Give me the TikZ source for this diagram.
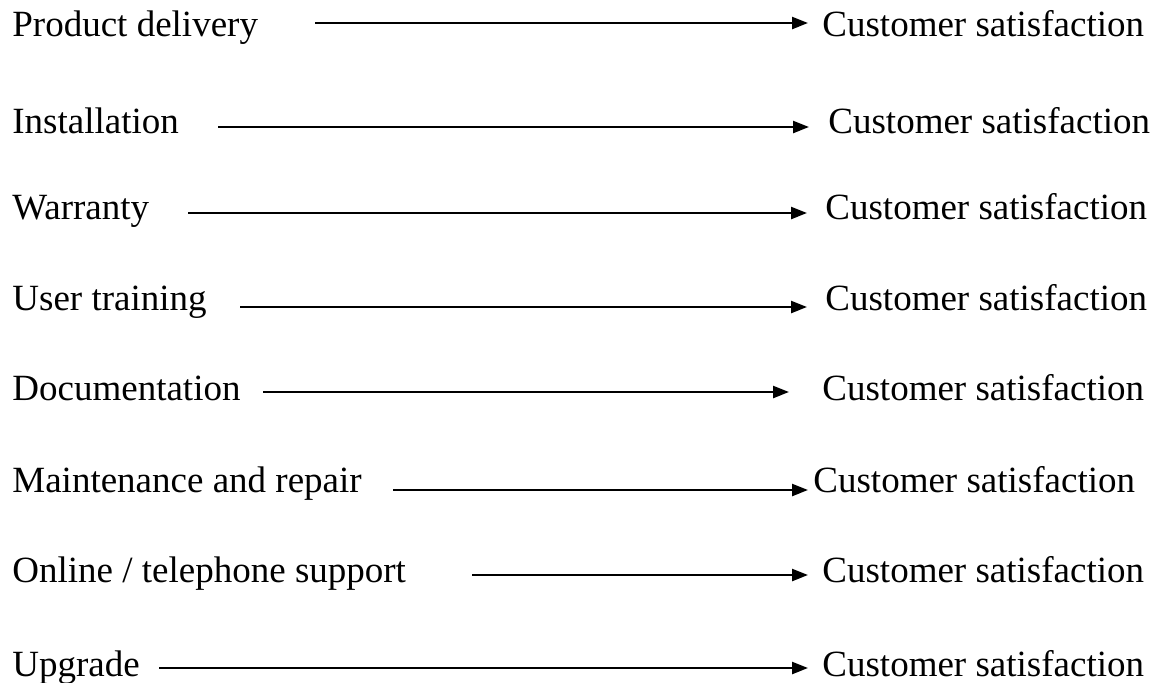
\documentclass[tikz,border=0pt]{standalone}
\usepackage{fontspec}
\setmainfont{Liberation Serif}
\usetikzlibrary{arrows.meta}
\tikzset{
  lbl/.style={anchor=base west, inner sep=0pt, font=\fontsize{18.5pt}{22pt}\selectfont},
  arr/.style={line width=1.2pt, -{Triangle[length=8pt, width=6pt]}}
}
\begin{document}
\begin{tikzpicture}[x=0.5pt,y=-0.5pt]
\useasboundingbox (0,0) rectangle (1152,682);
\node[lbl] (p1) at (12,36) {Product delivery};
\node[lbl] (p2) at (12,133) {Installation};
\node[lbl] (p3) at (12,219) {Warranty};
\node[lbl] (p4) at (12,310) {User training};
\node[lbl] (p5) at (12,400) {Documentation};
\node[lbl] (p6) at (12,492) {Maintenance and repair};
\node[lbl] (p7) at (12,582) {Online / telephone support};
\node[lbl] (p8) at (12,676) {Upgrade};
\node[lbl] (c1) at (822,36) {Customer satisfaction};
\node[lbl] (c2) at (828,133) {Customer satisfaction};
\node[lbl] (c3) at (825,219) {Customer satisfaction};
\node[lbl] (c4) at (825,310) {Customer satisfaction};
\node[lbl] (c5) at (822,400) {Customer satisfaction};
\node[lbl] (c6) at (813,492) {Customer satisfaction};
\node[lbl] (c7) at (822,582) {Customer satisfaction};
\node[lbl] (c8) at (822,676) {Customer satisfaction};
\coordinate (a1) at (315,23);
\coordinate (b1) at (808,23);
\coordinate (a2) at (218,127);
\coordinate (b2) at (809,127);
\coordinate (a3) at (188,213);
\coordinate (b3) at (807,213);
\coordinate (a4) at (240,307);
\coordinate (b4) at (807,307);
\coordinate (a5) at (263,392);
\coordinate (b5) at (789,392);
\coordinate (a6) at (393,490);
\coordinate (b6) at (808,490);
\coordinate (a7) at (472,575);
\coordinate (b7) at (808,575);
\coordinate (a8) at (159,668);
\coordinate (b8) at (808,668);
\draw[arr] (a1) -- (b1);
\draw[arr] (a2) -- (b2);
\draw[arr] (a3) -- (b3);
\draw[arr] (a4) -- (b4);
\draw[arr] (a5) -- (b5);
\draw[arr] (a6) -- (b6);
\draw[arr] (a7) -- (b7);
\draw[arr] (a8) -- (b8);
\end{tikzpicture}
\end{document}
